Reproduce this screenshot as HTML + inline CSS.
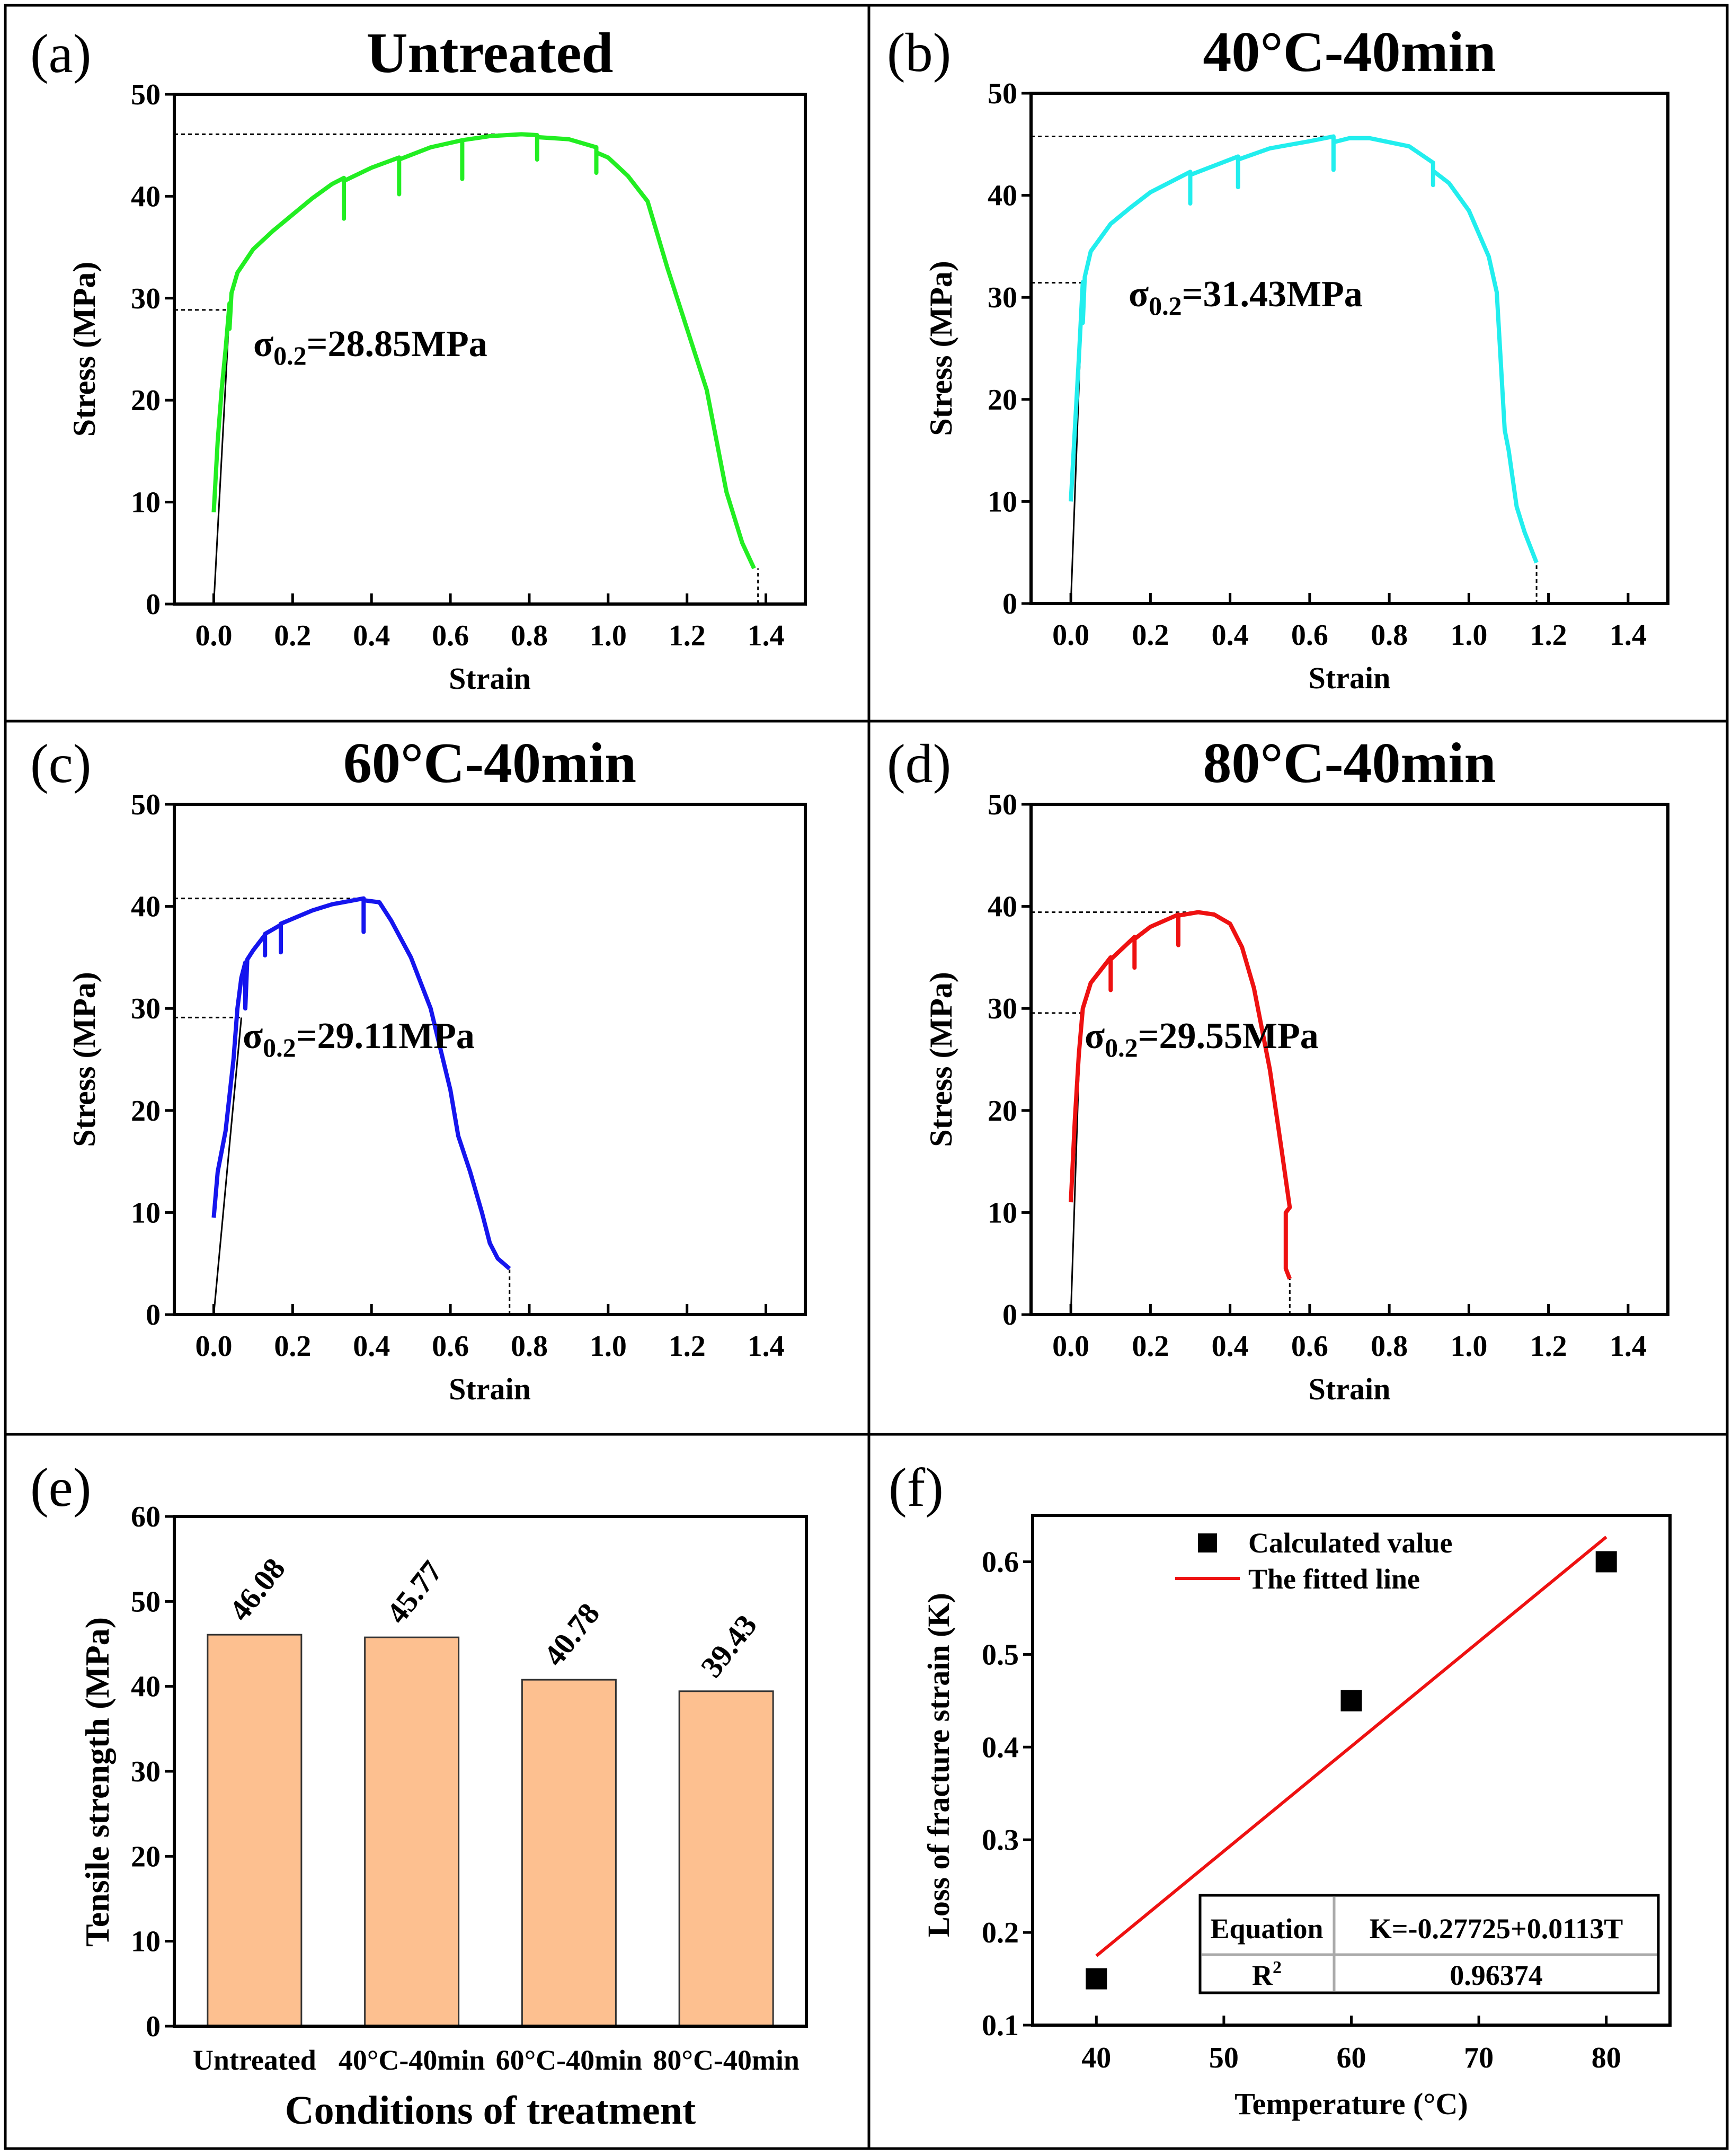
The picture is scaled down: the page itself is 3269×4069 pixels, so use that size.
<!DOCTYPE html>
<html><head><meta charset="utf-8"><style>
html,body{margin:0;padding:0;background:#fff}
svg{display:block}
text{font-family:"Liberation Serif",serif}
</style></head><body>
<svg id="fig" width="3269" height="4069" viewBox="0 0 3269 4069" xmlns="http://www.w3.org/2000/svg">
<rect x="0" y="0" width="3269" height="4069" fill="#fff"/>
<g fill="none" stroke="#000" stroke-width="5">
<rect x="10" y="10" width="3250" height="4045"/>
<line x1="1640" y1="10" x2="1640" y2="4055"/>
<line x1="10" y1="1361" x2="3260" y2="1361"/>
<line x1="10" y1="2707" x2="3260" y2="2707"/>
</g>
</svg>
<script>
// ---------- data ----------
const strainTicks = [0.0, 0.2, 0.4, 0.6, 0.8, 1.0, 1.2, 1.4];
const stressTicks = [0, 10, 20, 30, 40, 50];
const aStrain = [0.0,0.01,0.02,0.03,0.04,0.04,0.045,0.06,0.1,0.15,0.2,0.25,0.3,0.33,0.33,0.33,0.4,0.47,0.47,0.47,0.55,0.63,0.63,0.63,0.7,0.78,0.82,0.82,0.82,0.9,0.97,0.97,0.97,1.0,1.05,1.1,1.15,1.2,1.25,1.3,1.34,1.37];
const aStress = [9,16,21,25,29.5,27,30.5,32.5,34.8,36.6,38.2,39.8,41.2,41.8,37.8,41.5,42.8,43.8,40.2,43.6,44.8,45.5,41.7,45.5,45.9,46.08,46,43.6,45.8,45.6,44.8,42.3,44.3,43.8,42,39.5,33,27,21,11,6,3.5];
const bStrain = [0.0,0.01,0.02,0.03,0.03,0.035,0.05,0.1,0.15,0.2,0.3,0.3,0.3,0.42,0.42,0.42,0.5,0.6,0.66,0.66,0.66,0.7,0.75,0.85,0.91,0.91,0.91,0.95,1.0,1.05,1.07,1.09,1.1,1.12,1.14,1.17];
const bStress = [10,17,24,31.5,27.5,32,34.5,37.2,38.8,40.3,42.3,39.2,42,43.8,40.8,43.5,44.6,45.3,45.77,42.5,45.2,45.6,45.6,44.8,43.2,41,42.4,41.2,38.5,34,30.5,17,15,9.5,7,4];
const cStrain = [0.0,0.01,0.03,0.05,0.06,0.07,0.08,0.08,0.085,0.1,0.13,0.13,0.13,0.17,0.17,0.17,0.25,0.3,0.38,0.38,0.38,0.42,0.45,0.5,0.55,0.6,0.62,0.65,0.68,0.7,0.72,0.75];
const cStress = [9.5,14,18,25,30,33,34.5,30,34.8,35.7,37.2,35.2,37.3,38.2,35.5,38.3,39.6,40.2,40.78,37.5,40.6,40.4,38.6,35,30,22,17.5,14,10,7,5.5,4.5];
const dStrain = [0.0,0.01,0.02,0.03,0.05,0.1,0.1,0.1,0.16,0.16,0.16,0.2,0.27,0.27,0.27,0.32,0.36,0.4,0.43,0.46,0.5,0.53,0.55,0.54,0.54,0.55];
const dStress = [11,19,25.5,30,32.5,35,31.8,34.8,37,34,36.8,38,39.2,36.2,39.1,39.43,39.2,38.3,36,32,24,16,10.5,10,4.5,3.5];
const yieldVals = [28.85, 31.43, 29.11, 29.55];
const yieldStrain = [0.04, 0.03, 0.07, 0.025];
const peakVals = [46.08, 45.77, 40.78, 39.43];
const peakStrain = [0.78, 0.66, 0.38, 0.32];
const fractureStrain = [1.38, 1.17, 0.75, 0.55];
const fractureStress = [3.5, 4, 4.5, 3.5];
const barCategories = ["Untreated","40°C-40min","60°C-40min","80°C-40min"];
const barValues = [46.08, 45.77, 40.78, 39.43];
const barTicks = [0,10,20,30,40,50,60];
const tempValues = [40, 60, 80];
const lossValues = [0.15, 0.45, 0.6];
const tempTicks = [40,50,60,70,80];
const lossTicks = [0.1,0.2,0.3,0.4,0.5,0.6];
const fitIntercept = -0.27725;
const fitSlope = 0.0113;

// ---------- helpers ----------
const NS = "http://www.w3.org/2000/svg";
const svg = document.getElementById('fig');
function mk(tag, attrs, parent, txt){
  const e = document.createElementNS(NS, tag);
  for (const k in attrs) e.setAttribute(k, attrs[k]);
  if (txt !== undefined) e.textContent = txt;
  (parent || svg).appendChild(e);
  return e;
}
function lin(d0,d1,r0,r1){ return v => r0 + (v-d0)/(d1-d0)*(r1-r0); }

function stressPanel(cfg){
  const g = mk('g', {});
  
  
  const X = lin(-0.1, 1.5, cfg.L, cfg.R);
  const Y = lin(0, 50, cfg.B, cfg.T);
  const lab = mk('text', {x: cfg.L-272, y: cfg.T-42, 'font-size': 104}, g, cfg.letter);
  
  
  const tt = mk('text', {x: (cfg.L+cfg.R)/2, y: cfg.T-42, 'font-size': 108, 'font-weight': 'bold', 'text-anchor': 'middle'}, g, cfg.title);
  
  
  strainTicks.forEach(t => {
    const tk = mk('line', {x1: X(t), x2: X(t), y1: cfg.B, y2: cfg.B-20, stroke: '#000', 'stroke-width': 5}, g);
    
    
    const tl = mk('text', {x: X(t), y: cfg.B+78, 'font-size': 56, 'font-weight': 'bold', 'text-anchor': 'middle'}, g, t.toFixed(1));
    
    
  });
  stressTicks.forEach(t => {
    const tk = mk('line', {x1: cfg.L, x2: cfg.L-18, y1: Y(t), y2: Y(t), stroke: '#000', 'stroke-width': 5}, g);
    
    
    const tl = mk('text', {x: cfg.L-26, y: Y(t)+19, 'font-size': 56, 'font-weight': 'bold', 'text-anchor': 'end'}, g, String(t));
    
    
  });
  const xt = mk('text', {x: (cfg.L+cfg.R)/2, y: cfg.B+160, 'font-size': 58, 'font-weight': 'bold', 'text-anchor': 'middle'}, g, 'Strain');
  
  
  const yt = mk('text', {x: 0, y: 0, 'font-size': 60, 'font-weight': 'bold', 'text-anchor': 'middle', transform: `translate(${cfg.L-150},${(cfg.T+cfg.B)/2}) rotate(-90)`}, g, 'Stress (MPa)');
  
  
  const i = cfg.idx;
  const dash = {stroke: '#000', 'stroke-width': 3, 'stroke-dasharray': '7 6', fill: 'none'};
  const g1 = mk('line', Object.assign({x1: cfg.L, x2: X(peakStrain[i]), y1: Y(peakVals[i]), y2: Y(peakVals[i])}, dash), g);
  
  
  const g2 = mk('line', Object.assign({x1: cfg.L, x2: X(yieldStrain[i]), y1: Y(yieldVals[i]), y2: Y(yieldVals[i])}, dash), g);
  
  
  const g3 = mk('line', Object.assign({x1: X(fractureStrain[i]), x2: X(fractureStrain[i]), y1: cfg.B, y2: Y(fractureStress[i])}, dash), g);
  
  
  const el = mk('line', {x1: X(0), y1: Y(0), x2: X(yieldStrain[i]), y2: Y(yieldVals[i]), stroke: '#000', 'stroke-width': 3}, g);
  
  
  const d = cfg.xs.map((v,k) => (k?'L':'M') + X(v).toFixed(1) + ' ' + Y(cfg.ys[k]).toFixed(1)).join(' ');
  const cv = mk('path', {d: d, stroke: cfg.color, 'stroke-width': 8, fill: 'none', 'stroke-linejoin': 'round'}, g);
  
  
  const an = mk('text', {x: cfg.ax, y: cfg.ay, 'font-size': 70, 'font-weight': 'bold'}, g);
  
  
  mk('tspan', {}, an, 'σ');
  mk('tspan', {dy: 16, 'font-size': 50}, an, '0.2');
  mk('tspan', {dy: -16}, an, '=' + yieldVals[i].toFixed(2) + 'MPa');
  const fr = mk('rect', {x: cfg.L, y: cfg.T, width: cfg.R-cfg.L, height: cfg.B-cfg.T, fill: 'none', stroke: '#000', 'stroke-width': 6}, g);
  
  
}

stressPanel({name:'panel-a-untreated', idx:0, letter:'(a)', title:'Untreated', L:329, R:1520, T:178, B:1140, xs:aStrain, ys:aStress, color:'#22ee22', ax:478, ay:672});
stressPanel({name:'panel-b-40c', idx:1, letter:'(b)', title:'40°C-40min', L:1946, R:3148, T:176, B:1139, xs:bStrain, ys:bStress, color:'#22eeee', ax:2130, ay:578});
stressPanel({name:'panel-c-60c', idx:2, letter:'(c)', title:'60°C-40min', L:329, R:1520, T:1518, B:2481, xs:cStrain, ys:cStress, color:'#1515ee', ax:458, ay:1978});
stressPanel({name:'panel-d-80c', idx:3, letter:'(d)', title:'80°C-40min', L:1946, R:3148, T:1518, B:2481, xs:dStrain, ys:dStress, color:'#ee1111', ax:2047, ay:1978});

(function(){
  const L=329, R=1522, T=2862, B=3824;
  const g = mk('g', {});
  
  
  const X = lin(-0.51, 3.51, L, R);
  const Y = lin(0, 60, B, T);
  const lab = mk('text', {x: 57, y: 2842, 'font-size': 104}, g, '(e)');
  
  
  barTicks.forEach(t => {
    const tk = mk('line', {x1: L, x2: L-18, y1: Y(t), y2: Y(t), stroke: '#000', 'stroke-width': 5}, g);
    
    
    const tl = mk('text', {x: L-26, y: Y(t)+19, 'font-size': 56, 'font-weight': 'bold', 'text-anchor': 'end'}, g, String(t));
    
    
  });
  barCategories.forEach((c, k) => {
    const bw = 177;
    const b = mk('rect', {x: X(k)-bw/2, y: Y(barValues[k]), width: bw, height: B - Y(barValues[k]), fill: '#fdc090', stroke: '#333', 'stroke-width': 3}, g);
    
    
    const vl = mk('text', {x: 0, y: 0, 'font-size': 58, 'font-weight': 'bold', transform: `translate(${X(k)-20},${Y(barValues[k])-22}) rotate(-52)`}, g, barValues[k].toFixed(2));
    
    
    const cl = mk('text', {x: X(k), y: B+82, 'font-size': 54, 'font-weight': 'bold', 'text-anchor': 'middle'}, g, c);
    
    
  });
  const xt = mk('text', {x: (L+R)/2, y: 4008, 'font-size': 76, 'font-weight': 'bold', 'text-anchor': 'middle'}, g, 'Conditions of treatment');
  
  
  const yt = mk('text', {x: 0, y: 0, 'font-size': 64, 'font-weight': 'bold', 'text-anchor': 'middle', transform: `translate(${L-124},${(T+B)/2+20}) rotate(-90)`}, g, 'Tensile strength (MPa)');
  
  
  const fr = mk('rect', {x: L, y: T, width: R-L, height: B-T, fill: 'none', stroke: '#000', 'stroke-width': 6}, g);
  
  
})();

(function(){
  const L=1949, R=3152, T=2860, B=3822;
  const g = mk('g', {});
  
  
  const X = lin(35, 85, L, R);
  const Y = lin(0.1, 0.65, B, T);
  const lab = mk('text', {x: 1677, y: 2842, 'font-size': 104}, g, '(f)');
  
  
  tempTicks.forEach(t => {
    const tk = mk('line', {x1: X(t), x2: X(t), y1: B, y2: B-18, stroke: '#000', 'stroke-width': 5}, g);
    
    
    const tl = mk('text', {x: X(t), y: B+80, 'font-size': 56, 'font-weight': 'bold', 'text-anchor': 'middle'}, g, String(t));
    
    
  });
  lossTicks.forEach(t => {
    const tk = mk('line', {x1: L, x2: L-18, y1: Y(t), y2: Y(t), stroke: '#000', 'stroke-width': 5}, g);
    
    
    const tl = mk('text', {x: L-26, y: Y(t)+19, 'font-size': 56, 'font-weight': 'bold', 'text-anchor': 'end'}, g, t.toFixed(1));
    
    
  });
  const x0 = tempValues[0], x1 = tempValues[tempValues.length-1];
  const fl = mk('line', {x1: X(x0), y1: Y(fitIntercept+fitSlope*x0), x2: X(x1), y2: Y(fitIntercept+fitSlope*x1), stroke: '#ee1111', 'stroke-width': 6}, g);
  
  
  tempValues.forEach((t,k) => {
    const p = mk('rect', {x: X(t)-20, y: Y(lossValues[k])-20, width: 40, height: 40, fill: '#000'}, g);
    
    
  });
  const lg = mk('g', {}, g);
  
  
  mk('rect', {x: 2261, y: 2894, width: 36, height: 36, fill: '#000'}, lg);
  mk('text', {x: 2356, y: 2930, 'font-size': 54, 'font-weight': 'bold'}, lg, 'Calculated value');
  mk('line', {x1: 2218, y1: 2979, x2: 2340, y2: 2979, stroke: '#ee1111', 'stroke-width': 6}, lg);
  mk('text', {x: 2356, y: 2998, 'font-size': 54, 'font-weight': 'bold'}, lg, 'The fitted line');
  const tb = mk('g', {}, g);
  
  
  mk('rect', {x: 2265, y: 3577, width: 865, height: 184, fill: '#fff', stroke: '#000', 'stroke-width': 5}, tb);
  mk('line', {x1: 2518, y1: 3580, x2: 2518, y2: 3758, stroke: '#aaa', 'stroke-width': 5}, tb);
  mk('line', {x1: 2268, y1: 3689, x2: 3127, y2: 3689, stroke: '#aaa', 'stroke-width': 5}, tb);
  mk('text', {x: 2391, y: 3658, 'font-size': 54, 'font-weight': 'bold', 'text-anchor': 'middle'}, tb, 'Equation');
  mk('text', {x: 2824, y: 3658, 'font-size': 54, 'font-weight': 'bold', 'text-anchor': 'middle'}, tb, 'K=-0.27725+0.0113T');
  const r2 = mk('text', {x: 2391, y: 3746, 'font-size': 54, 'font-weight': 'bold', 'text-anchor': 'middle'}, tb);
  mk('tspan', {}, r2, 'R');
  mk('tspan', {dy: -22, 'font-size': 34}, r2, '2');
  mk('text', {x: 2824, y: 3746, 'font-size': 54, 'font-weight': 'bold', 'text-anchor': 'middle'}, tb, '0.96374');
  const xt = mk('text', {x: (L+R)/2, y: 3990, 'font-size': 58, 'font-weight': 'bold', 'text-anchor': 'middle'}, g, 'Temperature (°C)');
  
  
  const yt = mk('text', {x: 0, y: 0, 'font-size': 58, 'font-weight': 'bold', 'text-anchor': 'middle', transform: `translate(${L-158},${(T+B)/2-10}) rotate(-90)`}, g, 'Loss of fracture strain (K)');
  
  
  const fr = mk('rect', {x: L, y: T, width: R-L, height: B-T, fill: 'none', stroke: '#000', 'stroke-width': 6}, g);
  
  
})();
</script>
</body></html>
